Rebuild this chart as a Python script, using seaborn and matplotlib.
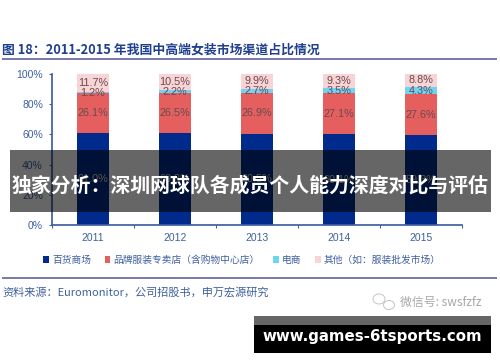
import matplotlib
matplotlib.use('Agg')
import numpy as np
import pandas as pd
import matplotlib.pyplot as plt
from matplotlib.patches import Rectangle, Ellipse
import seaborn as sns

sns.set_theme(style='white')
plt.rcParams['font.family'] = ['Noto Sans CJK SC', 'DejaVu Sans']

years = ['2011', '2012', '2013', '2014', '2015']
dept = [61.0, 60.8, 60.5, 60.1, 59.3]
brand = [26.1, 26.5, 26.9, 27.1, 27.6]
online = [1.2, 2.2, 2.7, 3.5, 4.3]
other = [11.7, 10.5, 9.9, 9.3, 8.8]
names = ['百货商场', '品牌服装专卖店（含购物中心店）', '电商', '其他（如：服装批发市场）']
colors = ['#002b8c', '#e55f5f', '#6fd3f5', '#f8d4d6']
yticks = [0, 20, 40, 60, 80, 100]

W, H = 500, 362
blue = '#3f5f9f'
title_blue = '#1f3f8f'
rule = '#7b7bb0'

fig = plt.figure(figsize=[W/100, H/100], dpi=100)
ax = fig.add_axes([52/W, 1-225/H, 410/W, 151/H])

df = pd.DataFrame({'year': years, names[0]: dept, names[1]: brand, names[2]: online, names[3]: other})
bottom = np.zeros(len(years))
for name, col in zip(names, colors):
    sns.barplot(data=df, x='year', y=name, color=col, width=0.4, saturation=1,
                bottom=bottom, label=name, ax=ax, edgecolor='none', legend=False)
    vals = df[name].values
    for i, v in enumerate(vals):
        if name == names[2]:
            off = v/2 - 0.3
        elif name == names[3]:
            off = v/2 + 0.2
        else:
            off = v/2
        ax.text(i, bottom[i]+off, '%.1f%%' % v, ha='center', va='center', fontsize=7.8,
                family=['Liberation Sans'],
                color='#d8d39a' if name == names[0] else '#6a4a50')
    bottom = bottom + vals

ax.set_xlim(-0.5, 4.5)
ax.set_ylim(0, 100)
ax.set_xlabel('')
ax.set_ylabel('')
ax.set_yticks(yticks)
ax.set_yticklabels(['%d%%' % t for t in yticks], family=['Liberation Sans'])
ax.set_xticks(np.arange(-0.5, 5), minor=True)
ax.tick_params(axis='x', which='major', length=0, labelsize=7.5, labelcolor=blue, pad=6)
ax.tick_params(axis='x', which='minor', length=2.5, color=blue, width=0.8, bottom=True)
ax.tick_params(axis='y', length=2.5, color=blue, width=0.8, labelsize=7.5, labelcolor=blue, left=True, pad=4)
for label in ax.get_xticklabels():
    label.set_family(['Liberation Sans'])
sns.despine(ax=ax)
ax.spines['left'].set_color(blue)
ax.spines['bottom'].set_color(blue)

handles = [ax.containers[i] for i in range(4)]
fig.legend(handles, names, ncol=4, loc='center', bbox_to_anchor=(242/W, 1-260/H), frameon=False,
           fontsize=7, labelcolor=blue, handlelength=0.6, handleheight=0.6, handletextpad=0.3,
           columnspacing=1.4, borderpad=0)

fig.text(2/W, 1-50/H, '图 18：2011-2015 年我国中高端女装市场渠道占比情况', fontsize=9.25,
         fontweight='bold', color=title_blue, va='center')
fig.text(2/W, 1-292/H, '资料来源：Euromonitor，公司招股书，申万宏源研究', fontsize=8, color=blue, va='center')
fig.text(400/W, 1-302/H, '微信号: swsfzfz', fontsize=8.6, color='#a8a8a8', va='center', ha='left')

# wechat icon
for cx, cy, w, h in [(379, 299, 12, 10), (389, 305, 11, 9)]:
    fig.add_artist(Ellipse((cx/W, 1-cy/H), w/W, h/H, transform=fig.transFigure,
                           fc='white', ec='#c4c4c4', lw=0.7))

for y in [59, 278]:
    fig.add_artist(Rectangle((2/W, 1-(y+0.7)/H), 495/W, 1.4/H, transform=fig.transFigure, color=rule, lw=0))

# banners on top of the chart
fig.add_artist(Rectangle((10/W, 1-212/H), 481/W, 62/H, transform=fig.transFigure, color='black', alpha=0.6, lw=0, zorder=5))
fig.text(250.5/W, 1-185/H, '独家分析：深圳网球队各成员个人能力深度对比与评估', fontsize=14.3, color='white',
         ha='center', va='center', fontweight='bold', zorder=6)
fig.add_artist(Rectangle((254/W, 1-325/H), 237/W, 9/H, transform=fig.transFigure, color='#666666', lw=0, zorder=5))
fig.add_artist(Rectangle((254/W, 1-353/H), 237/W, 28/H, transform=fig.transFigure, color='black', lw=0, zorder=5))
fig.text(372/W, 1-337/H, 'www.games-6tsports.com', fontsize=10.8, color='white', ha='center', va='center',
         fontweight='bold', family=['DejaVu Sans'], zorder=6)

fig.savefig('out.png', dpi=100)
